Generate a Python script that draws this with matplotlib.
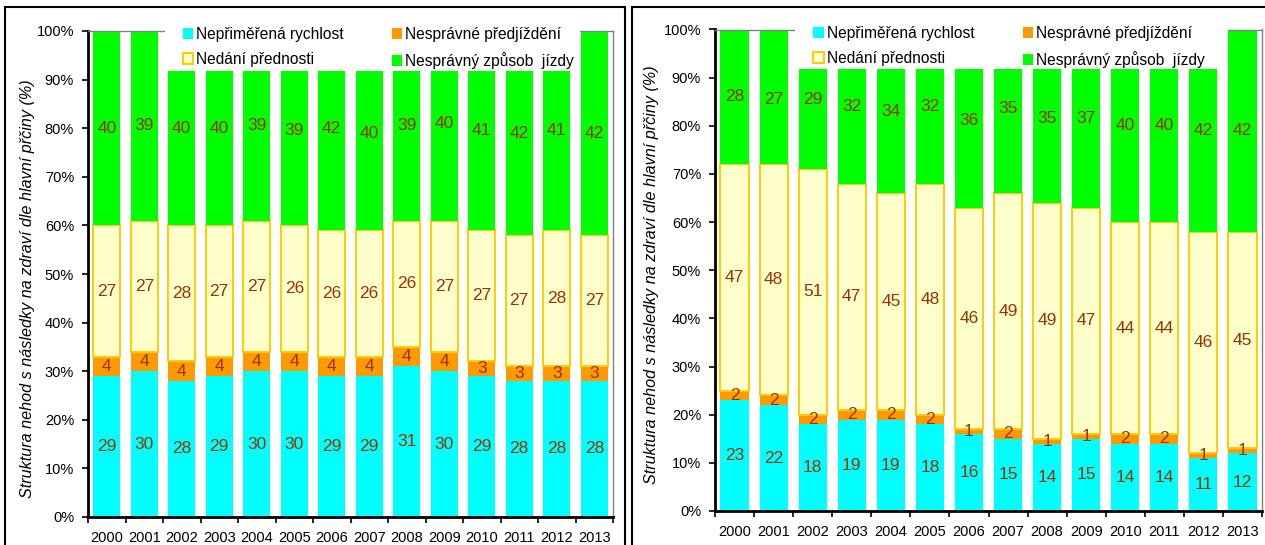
import numpy as np
import matplotlib
matplotlib.use("Agg")
import matplotlib.pyplot as plt
from matplotlib.patches import Rectangle, Patch

plt.rcParams["font.family"] = ["Liberation Sans", "DejaVu Sans"]

# ==========================================
# DATA
# ==========================================
years = ["2000", "2001", "2002", "2003", "2004", "2005", "2006",
         "2007", "2008", "2009", "2010", "2011", "2012", "2013"]

series_names = ["Nepřiměřená rychlost", "Nesprávné předjíždění",
                "Nedání přednosti", "Nesprávný způsob  jízdy"]

# left panel
left_speed = [29, 30, 28, 29, 30, 30, 29, 29, 31, 30, 29, 28, 28, 28]
left_overtake = [4, 4, 4, 4, 4, 4, 4, 4, 4, 4, 3, 3, 3, 3]
left_priority = [27, 27, 28, 27, 27, 26, 26, 26, 26, 27, 27, 27, 28, 27]
left_driving = [40, 39, 40, 40, 39, 39, 42, 40, 39, 40, 41, 42, 41, 42]

# right panel
right_speed = [23, 22, 18, 19, 19, 18, 16, 15, 14, 15, 14, 14, 11, 12]
right_overtake = [2, 2, 2, 2, 2, 2, 1, 2, 1, 1, 2, 2, 1, 1]
right_priority = [47, 48, 51, 47, 45, 48, 46, 49, 49, 47, 44, 44, 46, 45]
right_driving = [28, 27, 29, 32, 34, 32, 36, 35, 35, 37, 40, 40, 42, 42]

ylabel = "Struktura nehod s následky na zdraví dle hlavní přčiny (%)"

# ==========================================
# STYLE
# ==========================================
C_SPEED = "#00FFFF"
C_OVER = "#FF9900"
C_PRIO = "#FFFFCC"
C_PRIO_EDGE = "#FFCC00"
C_DRIVE = "#00FF00"
C_LABEL = "#993300"

W, H = 1265, 545
fig = plt.figure(figsize=(W / 100, H / 100), dpi=100)


def draw_panel(ax, speed, overtake, priority, driving, label_x, label_y):
    x = np.arange(len(years))
    speed = np.array(speed, dtype=float)
    overtake = np.array(overtake, dtype=float)
    priority = np.array(priority, dtype=float)
    driving = np.array(driving, dtype=float)
    bw = 0.72

    b1 = np.zeros(len(x))
    b2 = b1 + speed
    b3 = b2 + overtake
    b4 = b3 + priority

    ax.bar(x, speed, bw, bottom=b1, color=C_SPEED, zorder=1)
    ax.bar(x, overtake, bw, bottom=b2, color=C_OVER, zorder=1)
    ax.bar(x, priority, bw, bottom=b3, color=C_PRIO,
           edgecolor=C_PRIO_EDGE, linewidth=1.4, zorder=1)
    # top segment is the remaining share up to 100 %
    ax.bar(x, 100 - b4, bw, bottom=b4, color=C_DRIVE, zorder=1)

    for vals, bottoms in [(speed, b1), (overtake, b2), (priority, b3), (driving, b4)]:
        for xi, v, b in zip(x, vals, bottoms):
            ax.text(xi, b + v / 2, str(int(v)), ha="center", va="center",
                    fontsize=12.5, color=C_LABEL, zorder=2)

    ax.set_xlim(-0.5, len(x) - 0.5)
    ax.set_ylim(0, 100)
    ax.set_yticks(np.arange(0, 101, 10))
    ax.set_yticklabels([f"{v}%" for v in range(0, 101, 10)], fontsize=10.5)
    ax.set_xticks(np.arange(-0.5, len(x), 1))
    ax.set_xticklabels([])
    ax.set_xticks(x, minor=True)
    ax.set_xticklabels(years, minor=True, fontsize=10.5)
    ax.tick_params(axis="x", which="major", direction="out", length=4, width=1.2)
    ax.tick_params(axis="x", which="minor", length=0, pad=10)
    ax.tick_params(axis="y", direction="out", length=4, width=1.2, pad=6)

    for s in ["left", "bottom"]:
        ax.spines[s].set_linewidth(2)
        ax.spines[s].set_color("black")
    for s in ["top", "right"]:
        ax.spines[s].set_linewidth(1)
        ax.spines[s].set_color("#808080")

    ax.set_ylabel(ylabel, fontsize=11.6, style="italic")
    ax.yaxis.set_label_coords(label_x, label_y)

    # white legend area covering the tops of the bars
    ax.add_patch(Rectangle((0.146, 0.918), 0.792, 0.115, transform=ax.transAxes,
                           facecolor="white", edgecolor="none",
                           clip_on=False, zorder=3))

    handles = [
        Patch(facecolor=C_SPEED, edgecolor="none"),
        Patch(facecolor=C_PRIO, edgecolor=C_PRIO_EDGE, linewidth=1.4),
        Patch(facecolor=C_OVER, edgecolor="none"),
        Patch(facecolor=C_DRIVE, edgecolor="none"),
    ]
    names = [series_names[0], series_names[2], series_names[1], series_names[3]]
    leg = ax.legend(handles, names, ncol=2, loc="upper left",
                    bbox_to_anchor=(0.18, 1.008), frameon=False,
                    fontsize=11.2, handlelength=0.7, handleheight=0.7,
                    handletextpad=0.15, columnspacing=3.1, labelspacing=0.65,
                    borderpad=0, borderaxespad=0)
    leg.set_zorder(5)


# ==========================================
# LEFT PANEL
# ==========================================
axL = fig.add_axes([88 / W, 1 - 517 / H, (613 - 88) / W, (517 - 31) / H])
draw_panel(axL, left_speed, left_overtake, left_priority, left_driving,
           -0.101, 0.47)

# ==========================================
# RIGHT PANEL
# ==========================================
axR = fig.add_axes([715 / W, 1 - 511 / H, (1262 - 715) / W, (511 - 29.5) / H])
draw_panel(axR, right_speed, right_overtake, right_priority, right_driving,
           -0.102, 0.49)

# panel frames
fig.patches.append(Rectangle((5 / W, -0.05), (625 - 5) / W, 1 - 7 / H + 0.05,
                             transform=fig.transFigure, fill=False,
                             edgecolor="black", linewidth=1.5))
fig.patches.append(Rectangle((632 / W, -0.05), (1280 - 632) / W, 1 - 7 / H + 0.05,
                             transform=fig.transFigure, fill=False,
                             edgecolor="black", linewidth=1.5))

fig.savefig("out.png", dpi=100, facecolor="white")
